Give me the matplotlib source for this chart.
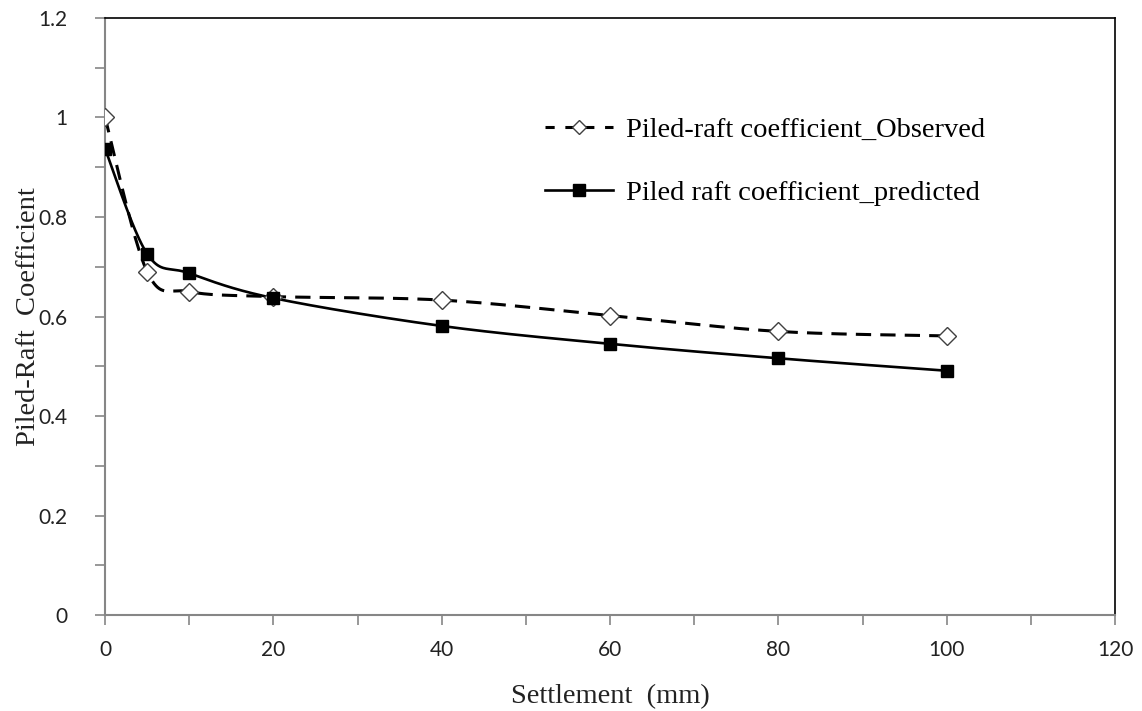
import matplotlib
matplotlib.use("Agg")
import matplotlib.pyplot as plt
from matplotlib.ticker import MultipleLocator, FuncFormatter
import numpy as np

## data
settlement = [0, 5, 10, 20, 40, 60, 80, 100]
observed   = [1.0, 0.69, 0.65, 0.64, 0.633, 0.602, 0.57, 0.561]
predicted  = [0.937, 0.726, 0.687, 0.637, 0.581, 0.545, 0.516, 0.491]

label_obs  = "Piled-raft coefficient_Observed"
label_pred = "Piled raft coefficient_predicted"

xmax, ymax = 120, 1.2

fig = plt.figure(figsize=(11.42, 7.11), dpi=100)
ax = fig.add_axes([0.092, 0.135, 0.8845, 0.8397])
ax.set_xlim(0, xmax)
ax.set_ylim(0, ymax)

## Excel-like smoothed line (Bezier through points, done in screen-like units)
def smooth(xs, ys, sx=1010.0 / xmax, sy=597.0 / ymax, n=40):
    p = np.column_stack([np.asarray(xs, float) * sx, np.asarray(ys, float) * sy])
    pts = []
    for i in range(len(p) - 1):
        p0 = p[i - 1] if i > 0 else p[i]
        p1, p2 = p[i], p[i + 1]
        p3 = p[i + 2] if i + 2 < len(p) else p[i + 1]
        c1 = p1 + (p2 - p0) / 6.0
        c2 = p2 - (p3 - p1) / 6.0
        t = np.linspace(0, 1, n)[:, None]
        seg = (1 - t)**3 * p1 + 3 * (1 - t)**2 * t * c1 + 3 * (1 - t) * t**2 * c2 + t**3 * p2
        pts.append(seg if i == 0 else seg[1:])
    pts = np.vstack(pts)
    return pts[:, 0] / sx, pts[:, 1] / sy

xo, yo = smooth(settlement, observed)
xp, yp = smooth(settlement, predicted)

ax.plot(xo, yo, color='black', lw=2.2, ls=(0, (5, 3)), zorder=3)
ax.plot(settlement, observed, ls='none', marker='D', ms=9, mfc='white', mec='#404040', mew=1.0, zorder=4)
ax.plot(xp, yp, color='black', lw=1.9, zorder=3)
ax.plot(settlement, predicted, ls='none', marker='s', ms=9, color='black', zorder=5)

## legend handles
h1, = ax.plot([], [], color='black', lw=2.2, ls=(0, (3, 3.5)), marker='D', ms=7, mfc='white', mec='#404040', mew=1.0)
h2, = ax.plot([], [], color='black', lw=1.9, marker='s', ms=8)
ax.legend([h1, h2], [label_obs, label_pred], loc='upper left', bbox_to_anchor=(0.467, 0.851),
          bbox_transform=fig.transFigure, borderaxespad=0,
          frameon=False, handlelength=2.4, handletextpad=0.45, labelspacing=1.3,
          prop={'family': 'Liberation Serif', 'size': 20.5})

## axes styling
ax.xaxis.set_major_locator(MultipleLocator(20))
ax.xaxis.set_minor_locator(MultipleLocator(10))
ax.yaxis.set_major_locator(MultipleLocator(0.2))
ax.yaxis.set_minor_locator(MultipleLocator(0.1))
ax.yaxis.set_major_formatter(FuncFormatter(lambda v, p: ('%g' % round(v, 2))))
ax.tick_params(which='both', direction='out', length=7, width=1.2, color='#868686',
               labelsize=15, labelcolor='#222222')
ax.tick_params(axis='x', pad=11)
ax.tick_params(axis='y', pad=20)
for lab in ax.get_xticklabels() + ax.get_yticklabels():
    lab.set_family('Lato')

for s in ['left', 'bottom']:
    ax.spines[s].set_color('#868686')
    ax.spines[s].set_linewidth(1.5)
for s in ['top', 'right']:
    ax.spines[s].set_color('black')
    ax.spines[s].set_linewidth(1.2)

ax.set_xlabel("Settlement  (mm)", family='Liberation Serif', fontsize=20.5, color='#222222', labelpad=17)
ax.set_ylabel("Piled-Raft  Coefficient", family='Liberation Serif', fontsize=20.5, color='#222222', labelpad=-2)

fig.savefig("out.png", dpi=100)
